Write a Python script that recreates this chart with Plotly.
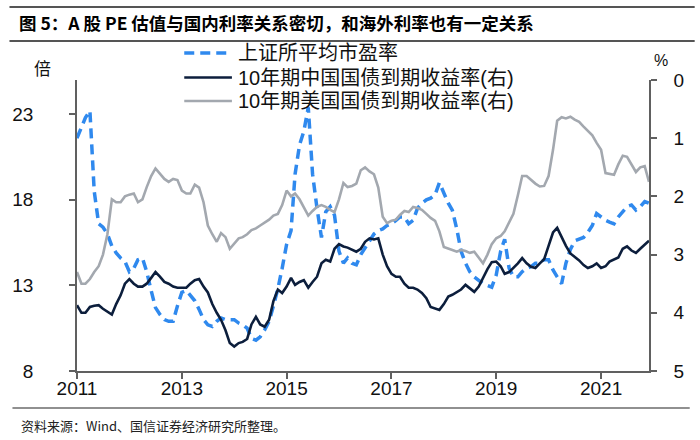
import pandas as pd
import plotly.graph_objects as go

# Monthly, Jan 2011 - Dec 2021
dates = pd.date_range("2011-01-01", "2021-12-01", freq="MS")

pe_sse = [
    21.6, 22.2, 22.8, 23.2, 18.5, 16.6, 16.4, 16.0, 15.3, 14.9, 14.6, 14.4,
    13.8, 14.0, 14.5, 14.6, 13.8, 12.7, 11.7, 11.3, 11.0, 10.9, 10.9, 11.8,
    12.6, 12.7, 12.4, 12.1, 11.6, 11.0, 10.7, 10.6, 10.9, 11.1, 11.0, 11.0,
    11.0, 10.8, 10.7, 10.5, 9.9, 9.8, 10.0, 10.4, 10.9, 11.8, 12.8, 14.0,
    15.4, 16.2, 19.5, 21.2, 22.0, 23.4, 19.5, 17.5, 15.8, 17.3, 17.6, 17.1,
    15.0, 14.3, 14.6, 14.3, 14.2, 14.8, 15.2, 15.6, 16.0, 16.2, 16.3, 16.5,
    16.6, 16.8, 17.0, 17.0, 16.6, 16.8, 17.5, 17.8, 18.0, 18.1, 18.3, 19.0,
    18.4, 17.8, 17.4, 16.3, 15.0, 14.3, 13.8, 13.5, 13.3, 13.1, 13.0, 12.9,
    13.6, 15.0, 15.7, 14.0, 13.5, 13.5, 13.8, 14.0, 14.1, 14.3, 14.3, 14.5,
    14.5, 13.9, 13.5, 13.1, 14.3, 15.1, 15.6, 15.7, 15.8, 16.1, 16.5, 17.2,
    17.0, 16.8, 16.7, 16.6, 17.0, 17.3, 17.6, 17.7, 17.4, 17.6, 17.9, 17.8,
]

cn10y = [
    3.87, 4.00, 4.00, 3.90, 3.88, 3.87, 3.93, 3.98, 4.03, 3.85, 3.70, 3.50,
    3.42, 3.50, 3.55, 3.55, 3.50, 3.40, 3.30, 3.38, 3.47, 3.50, 3.55, 3.57,
    3.57, 3.57, 3.50, 3.44, 3.42, 3.55, 3.65, 3.85, 4.00, 4.12, 4.30, 4.52,
    4.58, 4.52, 4.50, 4.45, 4.20, 4.07, 4.20, 4.24, 4.12, 3.80, 3.60, 3.66,
    3.55, 3.40, 3.52, 3.47, 3.44, 3.57, 3.47, 3.38, 3.15, 3.09, 3.12, 2.90,
    2.82, 2.86, 2.88, 2.92, 2.95, 2.90, 2.78, 2.72, 2.74, 2.72, 3.00, 3.20,
    3.33, 3.38, 3.38, 3.50, 3.57, 3.57, 3.60, 3.66, 3.75, 3.90, 3.93, 3.95,
    3.85, 3.72, 3.69, 3.64, 3.60, 3.52, 3.58, 3.64, 3.55, 3.40, 3.25, 3.13,
    3.12, 3.20, 3.33, 3.30, 3.23, 3.15, 3.06, 3.15, 3.21, 3.23, 3.15, 3.08,
    2.85, 2.62, 2.54, 2.70, 2.85, 2.98, 3.04, 3.10, 3.18, 3.23, 3.20, 3.15,
    3.23, 3.20, 3.12, 3.09, 3.05, 2.90, 2.86, 2.93, 2.97, 2.90, 2.82, 2.76,
]

us10y = [
    3.30, 3.50, 3.50, 3.42, 3.30, 3.20, 3.00, 2.65, 2.05, 2.10, 2.10, 2.00,
    1.97, 1.95, 2.10, 2.05, 1.84, 1.65, 1.52, 1.62, 1.70, 1.75, 1.70, 1.72,
    1.90, 1.95, 1.95, 1.80, 1.85, 2.10, 2.50, 2.65, 2.78, 2.63, 2.70, 2.90,
    2.80, 2.72, 2.70, 2.65, 2.58, 2.55, 2.50, 2.45, 2.40, 2.33, 2.30, 2.15,
    1.90, 2.00, 1.95, 2.05, 2.20, 2.33, 2.25, 2.18, 2.15, 2.18, 2.23, 2.27,
    2.05, 1.77, 1.84, 1.82, 1.78, 1.55, 1.50, 1.57, 1.62, 1.85, 2.35, 2.46,
    2.42, 2.40, 2.32, 2.25, 2.27, 2.18, 2.20, 2.23, 2.30, 2.37, 2.42, 2.60,
    2.87, 2.89, 2.92, 2.95, 2.92, 2.94, 2.97, 2.95, 3.05, 3.15, 3.00, 2.82,
    2.72, 2.68, 2.60, 2.45, 2.30, 1.98, 1.65, 1.65, 1.72, 1.78, 1.83, 1.82,
    1.65, 1.20, 0.70, 0.64, 0.66, 0.63, 0.68, 0.72, 0.80, 0.88, 0.95, 1.08,
    1.20, 1.60, 1.62, 1.63, 1.45, 1.30, 1.32, 1.45, 1.58, 1.50, 1.48, 1.75,
]

left_ticks = [8, 13, 18, 23]
right_ticks = [0, 1, 2, 3, 4, 5]

names = ["上证所平均市盈率", "10年期中国国债到期收益率(右)", "10年期美国国债到期收益率(右)"]
colors = ["#2F89EE", "#0C1E3C", "#A3A8AF"]

FONT = "Liberation Sans, Arial, Noto Sans CJK SC, sans-serif"
CJK = "Noto Sans CJK SC, sans-serif"

fig = go.Figure()
fig.add_trace(go.Scatter(x=dates, y=pe_sse, name=names[0], mode="lines",
                         line=dict(color=colors[0], width=3.5, dash="10px,6px")))
fig.add_trace(go.Scatter(x=dates, y=cn10y, name=names[1], mode="lines", yaxis="y2",
                         line=dict(color=colors[1], width=2.6)))
fig.add_trace(go.Scatter(x=dates, y=us10y, name=names[2], mode="lines", yaxis="y2",
                         line=dict(color=colors[2], width=2.6)))

axis_col = "#606060"
fig.update_layout(
    width=700, height=440,
    margin=dict(l=73, r=51, t=80, b=69),
    paper_bgcolor="white", plot_bgcolor="white",
    font=dict(family=FONT, color="#111111"),
    showlegend=False,
    xaxis=dict(
        type="date", range=["2011-01-01", "2021-12-01"],
        tick0="2011-01-01", dtick="M24", tickformat="%Y",
        showgrid=False, zeroline=False, showline=True, linecolor=axis_col, linewidth=1.5,
        ticks="outside", ticklen=6, tickcolor=axis_col, tickwidth=1.5,
        tickfont=dict(size=19, family=FONT, color="#111111"),
        ticklabelstandoff=-7,
    ),
    yaxis=dict(
        range=[8, 25], tickvals=left_ticks,
        showgrid=False, zeroline=False, showline=True, linecolor=axis_col, linewidth=1.5,
        ticks="outside", ticklen=6, tickcolor=axis_col, tickwidth=1.5,
        tickfont=dict(size=19, family=FONT, color="#111111"),
        ticklabelstandoff=32,
    ),
    yaxis2=dict(
        range=[5, 0], tickvals=right_ticks, overlaying="y", side="right",
        showgrid=False, zeroline=False, showline=True, linecolor=axis_col, linewidth=1.5,
        ticks="outside", ticklen=6, tickcolor=axis_col, tickwidth=1.5,
        tickfont=dict(size=19, family=FONT, color="#111111"),
        ticklabelstandoff=13,
    ),
)

W, H, L, T = 576.0, 291.0, 73.0, 80.0
def px(x):
    return (x - L) / W
def py(y):
    return (T + H - y) / H

annotations = [
    dict(text="<b>图 5：A 股 PE 估值与国内利率关系密切，和海外利率也有一定关系</b>",
         x=px(13), y=py(22), xanchor="left", yanchor="middle",
         font=dict(size=17.5, family=CJK, color="#000000")),
    dict(text="资料来源：Wind、国信证券经济研究所整理。",
         x=px(15), y=py(425), xanchor="left", yanchor="middle",
         font=dict(size=13, family=CJK, color="#222222")),
    dict(text="倍", x=px(38), y=py(68), xanchor="center", yanchor="middle",
         font=dict(size=17, family=CJK, color="#111111")),
    dict(text="%", x=px(661), y=py(60), xanchor="center", yanchor="middle",
         font=dict(size=16, family=FONT, color="#111111")),
]
# legend (drawn by hand to match spacing of the reference)
legend_rows = [53, 77.5, 101]
for nm, yy in zip(names, legend_rows):
    annotations.append(dict(text=nm, x=px(233), y=py(yy), xanchor="left", yanchor="middle",
                            font=dict(size=20, family=FONT, color="#111111")))
for a in annotations:
    a.update(xref="paper", yref="paper", showarrow=False)
fig.update_layout(annotations=annotations)

shapes = [
    dict(y0=py(7), y1=py(7), x0=px(5), x1=px(695), line=dict(color="#555555", width=2)),
    dict(y0=py(41), y1=py(41), x0=px(5), x1=px(695), line=dict(color="#555555", width=2)),
    dict(y0=py(408), y1=py(408), x0=px(8), x1=px(690), line=dict(color="#222222", width=1.2)),
    dict(y0=py(legend_rows[0]), y1=py(legend_rows[0]), x0=px(181), x1=px(229),
         line=dict(color=colors[0], width=3.5, dash="10px,6px")),
    dict(y0=py(legend_rows[1]), y1=py(legend_rows[1]), x0=px(181), x1=px(229),
         line=dict(color=colors[1], width=2.6)),
    dict(y0=py(legend_rows[2]), y1=py(legend_rows[2]), x0=px(181), x1=px(229),
         line=dict(color=colors[2], width=2.6)),
]
for s in shapes:
    s.update(type="line", xref="paper", yref="paper")
fig.update_layout(shapes=shapes)

fig.write_html("out.html", config={"displayModeBar": False},
               post_script="document.body.style.margin='0';")
